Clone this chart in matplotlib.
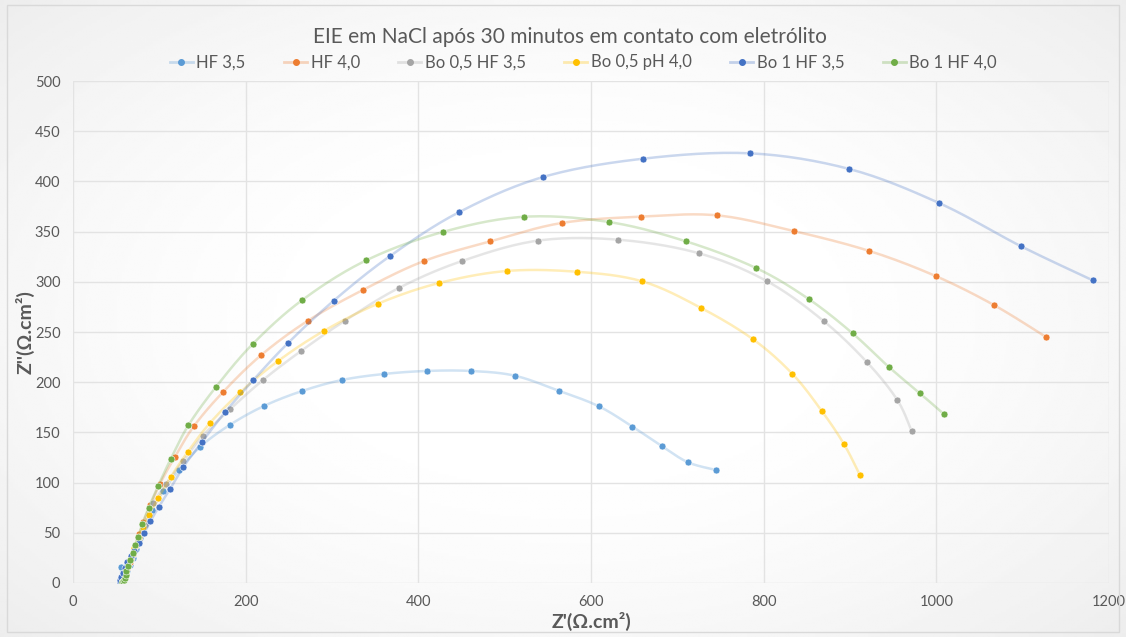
import numpy as np
import matplotlib
matplotlib.use("Agg")
import matplotlib.pyplot as plt
from matplotlib.lines import Line2D
from matplotlib.patches import Rectangle

plt.rcParams['font.family'] = ['Lato', 'DejaVu Sans']

# -----------------------
# Data
# -----------------------
labels = ["HF 3,5", "HF 4,0", "Bo 0,5 HF 3,5", "Bo 0,5 pH 4,0", "Bo 1 HF 3,5", "Bo 1 HF 4,0"]
colors = ["#5B9BD5", "#ED7D31", "#A5A5A5", "#FFC000", "#4472C4", "#70AD47"]

hf35_x = [55.6, 56, 58, 60, 63, 66, 69, 73, 78, 84, 92, 104.6, 122.8, 147.5, 181.5, 221.2, 265.3, 311.6,
          360.2, 409.7, 460.7, 511.6, 562.6, 609, 648, 681.7, 712.3, 745]
hf35_y = [16, 2, 4, 7, 12, 18, 25, 34, 45, 58, 73, 91.6, 112.5, 135.8, 157.4, 176.3, 191.2, 202.2,
          208.2, 211.2, 211.2, 206.5, 191.5, 176, 155.7, 136.5, 120.2, 112.5]

hf40_x = [56, 57, 59, 61, 63, 66, 69, 73, 77, 81.5, 89.6, 100.8, 117.8, 140.2, 174.1, 218.1, 272.2,
          335.6, 406.6, 483.4, 566, 658, 746, 834.6, 922.4, 999, 1066.5, 1127]
hf40_y = [1, 3, 6, 10, 15, 21, 29, 38, 49, 60.5, 77.4, 98.9, 125.2, 156.4, 190.5, 227.1, 261.3,
          291.8, 320.7, 340.3, 358.6, 364.9, 366.2, 350.6, 330.7, 305.8, 276.9, 245]

bo05hf35_x = [56, 57, 59, 61, 64, 67, 71, 76, 83, 93, 107.7, 127.8, 150.2, 181.9, 219.7, 263.7, 315,
              377.3, 450.6, 538.2, 630.7, 725.1, 804, 869.3, 919.7, 954.7, 971.2]
bo05hf35_y = [1, 3, 6, 11, 17, 24, 33, 43, 58, 79.4, 98.6, 121.5, 146.4, 173, 201.9, 230.8, 261.3,
              293.8, 320.7, 341, 342, 328.4, 300.5, 261, 219.8, 182.3, 151.4]

bo05ph40_x = [56, 57, 59, 61, 64, 67, 71, 76, 81, 87.7, 98.8, 113.2, 132.9, 158.3, 193.8, 237.5,
              290.4, 353.3, 424, 502.7, 583.8, 659.1, 726.9, 787.7, 833.3, 867.5, 893.1, 911.3]
bo05ph40_y = [1, 3, 6, 11, 18, 26, 35, 46, 56, 67.4, 84.4, 105.6, 130.5, 159, 190, 221.1,
              251, 278.2, 298.8, 310.8, 310, 300.5, 274.2, 242.7, 208.2, 171, 138.1, 107.6]

bo1hf35_x = [54, 55, 56, 58, 60, 63, 67, 71, 76, 82.2, 89.6, 99.6, 112.7, 128, 149.4, 176, 208.9,
             249.4, 302, 366.8, 446.8, 544.4, 660, 784, 899, 1003, 1098, 1181]
bo1hf35_y = [1, 3, 6, 10, 15, 21, 27, 32, 40, 49.5, 61.4, 76, 94, 115.8, 140.4, 170, 202.2,
             239.3, 281.2, 325.4, 369.2, 404.4, 422.6, 428, 412.4, 378.5, 335.4, 301.5]

bo1hf40_x = [57, 58, 59, 60, 61, 62, 64, 66, 69, 72, 75.3, 80.3, 87.7, 98.5, 113.2, 133.6, 165.3,
             208.1, 265.6, 339.7, 428.2, 522.4, 620.5, 710, 791.2, 852, 902.9, 945, 980.6, 1008.9]
bo1hf40_y = [0.5, 1.5, 3, 5, 8, 12, 17, 23, 30, 38, 45.8, 58.8, 75, 96.3, 123.5, 157, 194.9,
             238, 281.9, 321.4, 349.6, 364.8, 359.6, 340.3, 313.7, 282.9, 248.7, 215.1, 189.2, 168]

series_x = [hf35_x, hf40_x, bo05hf35_x, bo05ph40_x, bo1hf35_x, bo1hf40_x]
series_y = [hf35_y, hf40_y, bo05hf35_y, bo05ph40_y, bo1hf35_y, bo1hf40_y]


def smooth(x, y, n=16):
    # Catmull-Rom spline through the points (like Excel "smoothed line")
    p = np.column_stack([x, y]).astype(float)
    p = np.vstack([p[0], p, p[-1]])
    out = []
    t = np.linspace(0, 1, n, endpoint=False)[:, None]
    for i in range(1, len(p) - 2):
        p0, p1, p2, p3 = p[i - 1], p[i], p[i + 1], p[i + 2]
        seg = 0.5 * ((2 * p1) + (-p0 + p2) * t + (2 * p0 - 5 * p1 + 4 * p2 - p3) * t ** 2
                     + (-p0 + 3 * p1 - 3 * p2 + p3) * t ** 3)
        out.append(seg)
    out.append(p[-2][None, :])
    out = np.vstack(out)
    return out[:, 0], out[:, 1]


# -----------------------
# Figure
# -----------------------
fig = plt.figure(figsize=(11.26, 6.37), dpi=100)

# soft background gradient
bg = fig.add_axes([0, 0, 1, 1], zorder=-5)
gx, gy = np.meshgrid(np.linspace(-1, 1, 400), np.linspace(-1, 1, 240))
r = np.sqrt((gx * 0.95) ** 2 + (gy * 0.9) ** 2)
val = 1 - 0.075 * np.clip(r - 0.35, 0, None) ** 1.5
bg.imshow(val, cmap="gray", vmin=0, vmax=1, aspect="auto", extent=[0, 1, 0, 1])
bg.axis("off")
fig.patches.append(Rectangle((0.006, 0.008), 0.988, 0.984, transform=fig.transFigure,
                             fill=False, edgecolor="#D9D9D9", lw=1))

ax = fig.add_axes([0.0648, 0.0848, 0.9202, 0.788])
ax.patch.set_alpha(0)

for xs, ys, c, lab in zip(series_x, series_y, colors, labels):
    sx, sy = smooth(xs, ys)
    ax.plot(sx, sy, color=c, lw=1.8, alpha=0.28, solid_capstyle="round")
    ax.plot(xs, ys, linestyle="none", marker="o", ms=5, color=c, mec="white", mew=0.4)

ax.set_xlim(0, 1200)
ax.set_ylim(0, 500)
ax.set_xticks(np.arange(0, 1201, 200))
ax.set_yticks(np.arange(0, 501, 50))
ax.grid(True, color="#E3E3E3", lw=1)
ax.set_axisbelow(True)
for s in ax.spines.values():
    s.set_visible(False)
ax.tick_params(length=0, colors="#595959", labelsize=10.5, pad=9)

ax.set_xlabel("Z'(Ω.cm²)", fontsize=14, fontweight="bold", color="#595959", labelpad=2)
ax.set_ylabel("Z''(Ω.cm²)", fontsize=14, fontweight="bold", color="#595959", labelpad=0)

fig.text(0.506, 0.942, "EIE em NaCl após 30 minutos em contato com eletrólito",
         ha="center", va="center", fontsize=15, color="#595959")

handles = []
for c in colors:
    h = Line2D([], [], color=matplotlib.colors.to_rgba(c, 0.3), lw=2, marker="o", ms=4,
               markerfacecolor=c, markeredgecolor=c)
    handles.append(h)
leg = fig.legend(handles, labels, loc="center", bbox_to_anchor=(0.518, 0.902), ncol=6,
                 frameon=False, fontsize=12, handlelength=1.4, handletextpad=0.2,
                 columnspacing=2.3, labelcolor="#595959")

fig.savefig("out.png", dpi=100)
